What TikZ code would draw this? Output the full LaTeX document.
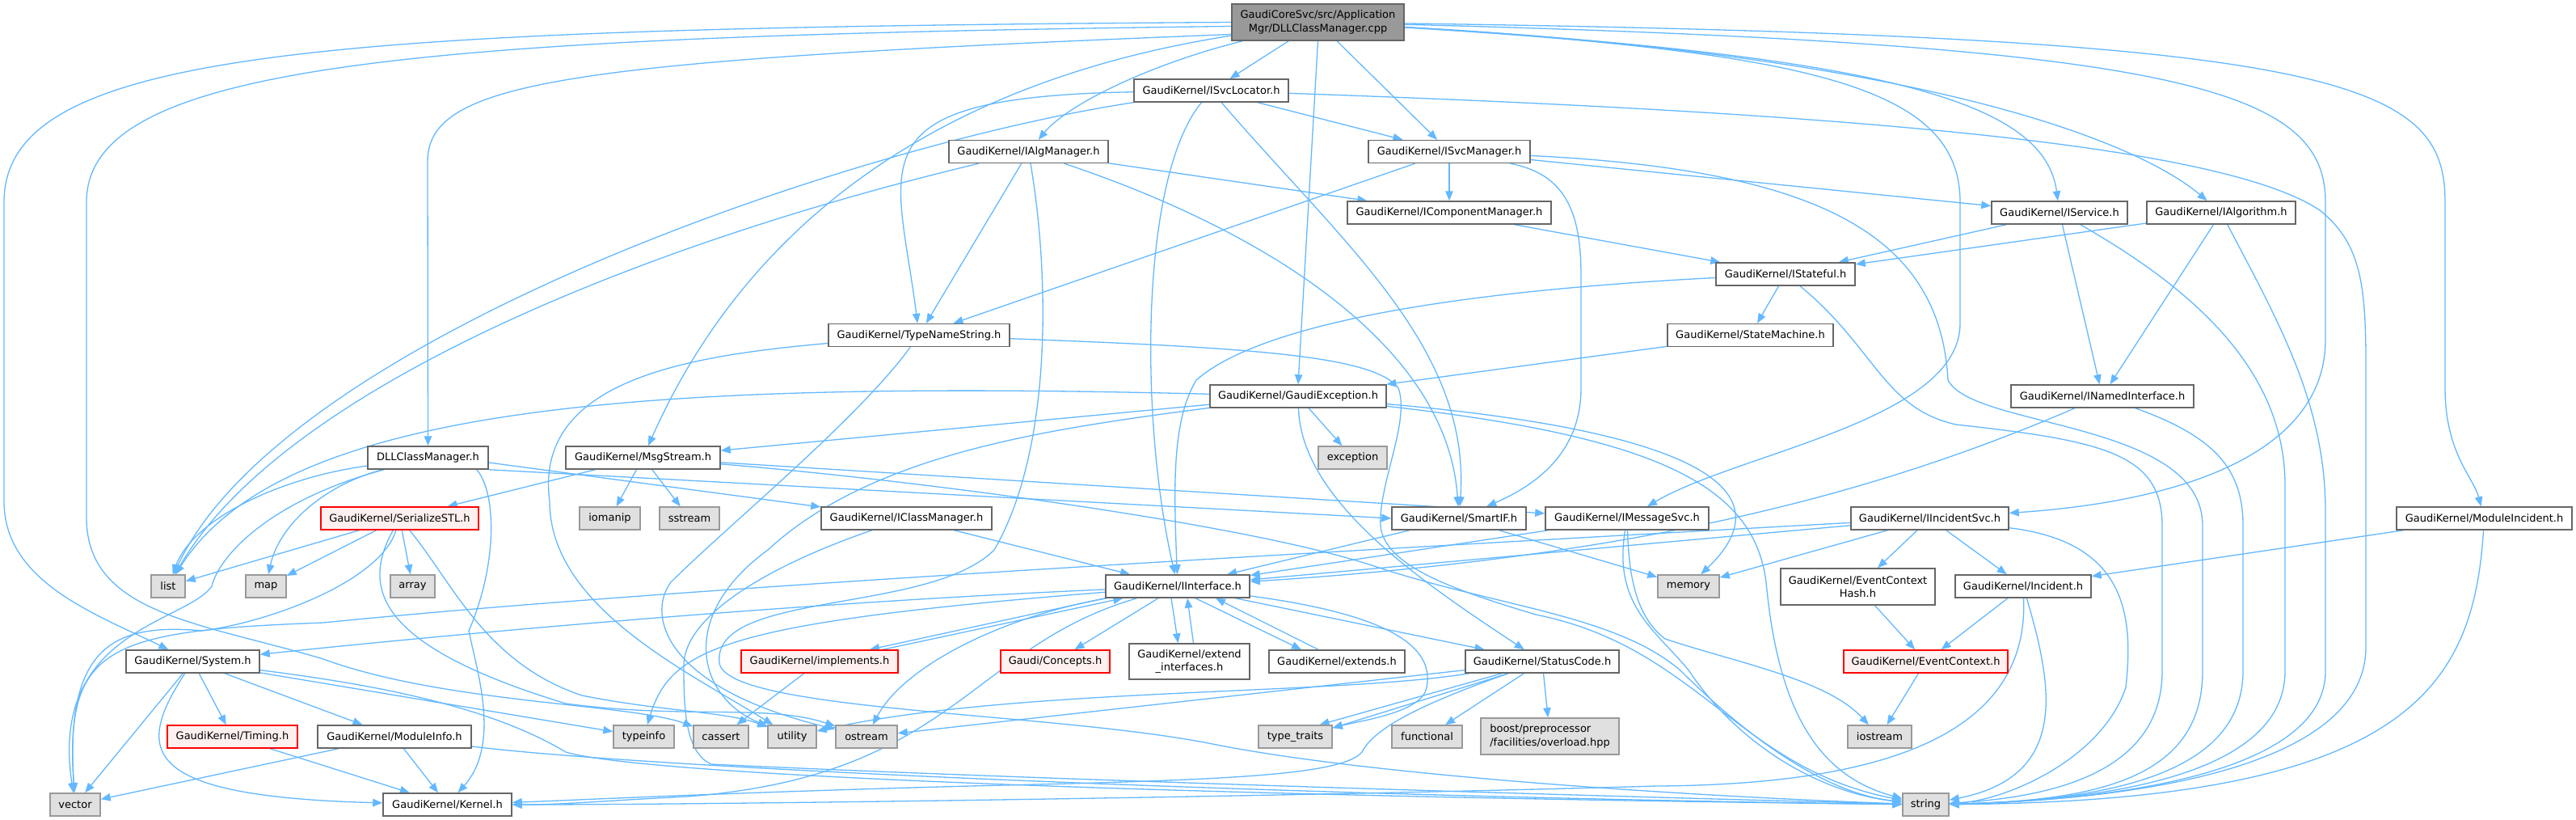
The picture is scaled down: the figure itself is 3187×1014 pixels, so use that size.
\documentclass[tikz,border=0pt]{standalone}
\usepackage{fontspec}
\setmainfont{DejaVu Sans}
\usetikzlibrary{arrows.meta}
\definecolor{edgeblue}{HTML}{63B8FF}
\definecolor{nodeline}{HTML}{666666}
\definecolor{leafline}{HTML}{999999}
\definecolor{leaffill}{HTML}{E0E0E0}
\definecolor{rootfill}{HTML}{999999}
\definecolor{redfill}{HTML}{FFF0F0}
\pgfdeclarelayer{edgelayer}
\pgfsetlayers{edgelayer,main}
\newcommand\nd[7]{\node[#6,minimum width=#4pt,minimum height=#5pt] (#1) at (#2,#3) {#7};}
\begin{document}
\begin{tikzpicture}[x=1pt,y=-1pt,
  box/.style={draw=nodeline,fill=white,line width=1.5pt,inner sep=0pt,align=center,font=\fontsize{13}{16.5}\selectfont},
  leaf/.style={box,draw=leafline,fill=leaffill},
  trunc/.style={box,draw=red,fill=redfill},
  rootbox/.style={box,draw=nodeline,fill=rootfill},
  edge/.style={draw=edgeblue,line width=1.3pt,-{Triangle[length=12pt,width=9.5pt]}}]
\useasboundingbox (0,0) rectangle (3187,1014);
\nd{root}{1630.5}{27.5}{213}{45}{rootbox}{GaudiCoreSvc/src/Application\\Mgr/DLLClassManager.cpp}
\nd{ISvcLocator}{1498.5}{112}{191}{28}{box}{GaudiKernel/ISvcLocator.h}
\nd{IAlgManager}{1272.5}{187.5}{197}{28}{box}{GaudiKernel/IAlgManager.h}
\nd{ISvcManager}{1793}{187.5}{200}{28}{box}{GaudiKernel/ISvcManager.h}
\nd{IComponentManager}{1793}{263}{252}{28}{box}{GaudiKernel/IComponentManager.h}
\nd{IService}{2548}{263}{168}{28}{box}{GaudiKernel/IService.h}
\nd{IAlgorithm}{2748}{263}{184}{28}{box}{GaudiKernel/IAlgorithm.h}
\nd{IStateful}{2209}{339}{172}{28}{box}{GaudiKernel/IStateful.h}
\nd{TypeNameString}{1137}{414.5}{224}{28}{box}{GaudiKernel/TypeNameString.h}
\nd{StateMachine}{2165.5}{414.5}{205}{28}{box}{GaudiKernel/StateMachine.h}
\nd{GaudiException}{1606}{490}{218}{28}{box}{GaudiKernel/GaudiException.h}
\nd{INamedInterface}{2601}{490}{226}{28}{box}{GaudiKernel/INamedInterface.h}
\nd{DLLClassManagerH}{529.5}{566}{149}{28}{box}{DLLClassManager.h}
\nd{MsgStream}{795.5}{566}{191}{28}{box}{GaudiKernel/MsgStream.h}
\nd{exception}{1673.5}{566}{85}{28}{leaf}{exception}
\nd{SerializeSTL}{494.5}{641}{195}{28}{trunc}{GaudiKernel/SerializeSTL.h}
\nd{iomanip}{754.5}{641}{75}{28}{leaf}{iomanip}
\nd{sstream}{853}{641}{74}{28}{leaf}{sstream}
\nd{IClassManager}{1121.5}{641}{211}{28}{box}{GaudiKernel/IClassManager.h}
\nd{SmartIF}{1805}{641}{166}{28}{box}{GaudiKernel/SmartIF.h}
\nd{IMessageSvc}{2013}{641}{202}{28}{box}{GaudiKernel/IMessageSvc.h}
\nd{IIncidentSvc}{2387.5}{641}{195}{28}{box}{GaudiKernel/IIncidentSvc.h}
\nd{ModuleIncident}{3073.5}{641}{217}{28}{box}{GaudiKernel/ModuleIncident.h}
\nd{list}{208}{725}{42}{28}{leaf}{list}
\nd{map}{329}{725}{50}{28}{leaf}{map}
\nd{array}{510.5}{725}{55}{28}{leaf}{array}
\nd{memory}{2089}{725}{76}{28}{leaf}{memory}
\nd{IInterface}{1457}{725}{178}{28}{box}{GaudiKernel/IInterface.h}
\nd{EventContextHash}{2298.5}{725.5}{191}{45}{box}{GaudiKernel/EventContext\\Hash.h}
\nd{Incident}{2503}{725}{168}{28}{box}{GaudiKernel/Incident.h}
\nd{System}{238.5}{818}{165}{28}{box}{GaudiKernel/System.h}
\nd{implements}{1014}{818}{194}{28}{trunc}{GaudiKernel/implements.h}
\nd{Concepts}{1305.5}{818}{135}{28}{trunc}{Gaudi/Concepts.h}
\nd{extendinterfaces}{1471.5}{818}{149}{44}{box}{GaudiKernel/extend\\\_interfaces.h}
\nd{extends}{1654}{818}{168}{28}{box}{GaudiKernel/extends.h}
\nd{StatusCode}{1908}{818}{190}{28}{box}{GaudiKernel/StatusCode.h}
\nd{EventContext}{2382.5}{818}{203}{28}{trunc}{GaudiKernel/EventContext.h}
\nd{Timing}{287.5}{911}{161}{28}{trunc}{GaudiKernel/Timing.h}
\nd{ModuleInfo}{488}{911}{190}{28}{box}{GaudiKernel/ModuleInfo.h}
\nd{typeinfo}{796.5}{911}{75}{28}{leaf}{typeinfo}
\nd{cassert}{892}{911}{68}{28}{leaf}{cassert}
\nd{utility}{980}{911}{60}{28}{leaf}{utility}
\nd{ostream}{1072}{911}{76}{28}{leaf}{ostream}
\nd{typetraits}{1602.5}{911}{91}{28}{leaf}{type\_traits}
\nd{functional}{1765.5}{911}{87}{28}{leaf}{functional}
\nd{boost}{1917.5}{910.5}{171}{45}{leaf,align=left}{boost/preprocessor\\/facilities/overload.hpp}
\nd{iostream}{2325.5}{911}{79}{28}{leaf}{iostream}
\nd{vector}{93}{995}{62}{28}{leaf}{vector}
\nd{Kernel}{553.5}{995}{159}{28}{box}{GaudiKernel/Kernel.h}
\nd{string}{2382.5}{995}{57}{28}{leaf}{string}
\begin{pgfonlayer}{edgelayer}
% root
\draw[edge] (root) -- (ISvcLocator);
\draw[edge] (root) .. controls (1420,80) and (1320,130) .. (IAlgManager);
\draw[edge] (root) -- (ISvcManager);
\draw[edge] (root.south) -- (GaudiException.north);
\draw[edge] (root) .. controls (2350,70) and (2530,130) .. (IService);
\draw[edge] (root) .. controls (2400,70) and (2650,180) .. (IAlgorithm);
\draw[edge] (root) .. controls (2700,55) and (2877,110) .. (2877,250) -- (2877,420) .. controls (2877,560) and (2700,620) .. (IIncidentSvc);
\draw[edge] (root) .. controls (2900,45) and (3025,100) .. (3025,250) -- (3025,480) .. controls (3025,560) and (3060,590) .. (ModuleIncident);
\draw[edge] (root) .. controls (2250,65) and (2425,110) .. (2425,250) -- (2425,400) .. controls (2425,520) and (2150,560) .. (IMessageSvc);
\draw[edge] (root) .. controls (1100,110) and (900,330) .. (MsgStream);
\draw[edge] ([yshift=-15pt]root.west) .. controls (700,75) and (529,100) .. (529,200) -- (DLLClassManagerH);
\draw[edge] (root.west) .. controls (400,35) and (5,60) .. (5,250) -- (5,620) .. controls (5,720) and (120,760) .. (System);
\draw[edge] ([yshift=-5pt]root.west) .. controls (500,45) and (107,80) .. (107,250) -- (107,640) .. controls (107,760) and (250,770) .. (400,815) .. controls (550,870) and (780,870) .. (cassert);
% ISvcLocator
\draw[edge] (ISvcLocator) .. controls (1050,120) and (1110,200) .. (TypeNameString);
\draw[edge] (ISvcLocator.south west) .. controls (1050,180) and (350,420) .. (list);
\draw[edge] (ISvcLocator) .. controls (1410,220) and (1410,520) .. (IInterface);
\draw[edge] (ISvcLocator) -- (ISvcManager);
\draw[edge] (ISvcLocator) .. controls (1660,300) and (1820,430) .. (SmartIF);
\draw[edge] (ISvcLocator) .. controls (2300,140) and (2750,180) .. (2870,260) .. controls (2920,300) and (2927,350) .. (2927,450) -- (2927,800) .. controls (2927,960) and (2600,990) .. (string);
% IAlgManager
\draw[edge] (IAlgManager) -- (IComponentManager);
\draw[edge] (IAlgManager) .. controls (1550,280) and (1790,420) .. (SmartIF);
\draw[edge] (IAlgManager) -- (TypeNameString);
\draw[edge] (IAlgManager) .. controls (800,300) and (350,480) .. (list);
\draw[edge] (IAlgManager) .. controls (1300,350) and (1300,560) .. (1230,680) .. controls (1150,760) and (880,730) .. (890,820) .. controls (900,880) and (1300,880) .. (1500,920) .. controls (1700,960) and (2100,985) .. (string);
% ISvcManager
\draw[edge] (ISvcManager) -- (IComponentManager);
\draw[edge] (ISvcManager) -- (IService);
\draw[edge] ([xshift=-25pt]ISvcManager.south east) .. controls (1935,215) and (1956,260) .. (1956,340) -- (1956,480) .. controls (1956,560) and (1900,600) .. (SmartIF);
\draw[edge] (ISvcManager) -- (TypeNameString);
\draw[edge] (ISvcManager) .. controls (2250,210) and (2400,290) .. (2410,470) .. controls (2440,530) and (2725,520) .. (2725,650) -- (2725,830) .. controls (2725,960) and (2600,990) .. (string);
% IComponentManager, IService, IAlgorithm
\draw[edge] (IComponentManager) -- (IStateful);
\draw[edge] (IService) -- (IStateful);
\draw[edge] (IService) -- (INamedInterface);
\draw[edge] (IService) .. controls (2700,350) and (2827,450) .. (2827,600) -- (2827,830) .. controls (2827,960) and (2600,990) .. (string);
\draw[edge] (IAlgorithm) -- (IStateful);
\draw[edge] (IAlgorithm) -- (INamedInterface);
\draw[edge] (IAlgorithm) .. controls (2820,400) and (2877,500) .. (2877,633) -- (2877,830) .. controls (2877,960) and (2600,990) .. (string);
% IStateful
\draw[edge] (IStateful) .. controls (1800,360) and (1560,400) .. (1480,470) .. controls (1450,520) and (1452,600) .. (IInterface);
\draw[edge] (IStateful) -- (StateMachine);
\draw[edge] (IStateful) .. controls (2320,430) and (2330,505) .. (2420,525) .. controls (2600,545) and (2675,560) .. (2675,650) -- (2675,830) .. controls (2675,950) and (2550,985) .. (string);
\draw[edge] (StateMachine) -- (GaudiException);
% TypeNameString
\draw[edge] (TypeNameString) .. controls (1550,430) and (1700,440) .. (1730,480) .. controls (1745,520) and (1705,600) .. (1708,650) .. controls (1712,700) and (1800,730) .. (1900,760) .. controls (2100,800) and (2150,950) .. (string);
\draw[edge] (TypeNameString) .. controls (850,440) and (660,470) .. (680,620) .. controls (680,750) and (850,830) .. (utility);
\draw[edge] (TypeNameString) .. controls (1060,520) and (900,650) .. (830,720) .. controls (800,760) and (820,850) .. (ostream);
% GaudiException
\draw[edge] (GaudiException) -- (MsgStream);
\draw[edge] (GaudiException) .. controls (800,470) and (350,500) .. (list);
\draw[edge] (GaudiException) -- (exception);
\draw[edge] (GaudiException) .. controls (1950,520) and (2250,570) .. (memory);
\draw[edge] (GaudiException) .. controls (1610,620) and (1760,720) .. (StatusCode);
\draw[edge] (GaudiException) .. controls (2050,540) and (2170,600) .. (2185,720) .. controls (2200,880) and (2250,960) .. (string);
\draw[edge] (GaudiException) .. controls (1300,530) and (1080,560) .. (950,680) .. controls (840,760) and (860,860) .. (utility);
% INamedInterface
\draw[edge] (INamedInterface) .. controls (2300,620) and (2000,690) .. (IInterface);
\draw[edge] (INamedInterface) .. controls (2740,540) and (2775,580) .. (2775,650) -- (2775,830) .. controls (2775,960) and (2600,990) .. (string);
% DLLClassManager.h
\draw[edge] ([yshift=-6pt]DLLClassManagerH.east) -- (IClassManager);
\draw[edge] (DLLClassManagerH.south east) -- (SmartIF.west);
\draw[edge] (DLLClassManagerH) .. controls (350,590) and (240,640) .. (list);
\draw[edge] (DLLClassManagerH) .. controls (400,600) and (345,650) .. (map);
\draw[edge] (DLLClassManagerH) .. controls (330,620) and (270,690) .. (262,725) .. controls (230,770) and (60,780) .. (vector);
\draw[edge] ([xshift=-15pt]DLLClassManagerH.south east) .. controls (615,610) and (615,700) .. (580,780) .. controls (590,830) and (620,920) .. (Kernel);
% MsgStream
\draw[edge] (MsgStream) -- (IMessageSvc);
\draw[edge] (MsgStream) -- (SerializeSTL);
\draw[edge] (MsgStream) -- (iomanip);
\draw[edge] (MsgStream) -- (sstream);
\draw[edge] (MsgStream) .. controls (1150,595) and (1550,650) .. (1700,700) .. controls (1850,750) and (2000,760) .. (2080,830) .. controls (2150,900) and (2250,980) .. (string);
% SerializeSTL
\draw[edge] (SerializeSTL) -- (list);
\draw[edge] (SerializeSTL) -- (map);
\draw[edge] (SerializeSTL) -- (array);
\draw[edge] (SerializeSTL) .. controls (470,720) and (330,770) .. (250,780) .. controls (140,770) and (80,800) .. (vector);
\draw[edge] (SerializeSTL) .. controls (445,730) and (470,800) .. (700,870) .. controls (850,890) and (950,870) .. (ostream);
\draw[edge] (SerializeSTL) .. controls (560,720) and (600,820) .. (720,860) .. controls (820,880) and (900,880) .. (utility);
% IClassManager
\draw[edge] (IClassManager) -- (IInterface);
\draw[edge] (IClassManager) .. controls (950,700) and (850,760) .. (846,820) .. controls (846,870) and (846,930) .. (880,945) .. controls (1300,965) and (2000,985) .. (string);
% SmartIF, IMessageSvc
\draw[edge] (SmartIF) -- (IInterface);
\draw[edge] (SmartIF) -- (memory);
\draw[edge] (IMessageSvc) -- (IInterface);
\draw[edge] (IMessageSvc) .. controls (2015,700) and (2020,760) .. (2060,790) .. controls (2150,820) and (2260,840) .. (iostream);
\draw[edge] (IMessageSvc) .. controls (1995,750) and (2050,780) .. (2090,830) .. controls (2150,920) and (2250,980) .. (string);
% IIncidentSvc
\draw[edge] (IIncidentSvc) -- (IInterface);
\draw[edge] (IIncidentSvc) .. controls (1500,690) and (800,730) .. (400,770) .. controls (130,780) and (80,800) .. (vector);
\draw[edge] (IIncidentSvc) -- (memory);
\draw[edge] (IIncidentSvc) -- (EventContextHash);
\draw[edge] (IIncidentSvc) -- (Incident);
\draw[edge] (IIncidentSvc) .. controls (2630,670) and (2640,760) .. (2630,850) .. controls (2600,940) and (2480,990) .. (string);
% ModuleIncident, Incident, EventContext
\draw[edge] (ModuleIncident) -- (Incident);
\draw[edge] (ModuleIncident) .. controls (3060,850) and (2980,990) .. (string);
\draw[edge] (Incident) -- (EventContext);
\draw[edge] (Incident) .. controls (2510,900) and (2350,970) .. (2050,972) .. controls (1600,985) and (900,995) .. (Kernel);
\draw[edge] (Incident) .. controls (2540,850) and (2560,960) .. (string);
\draw[edge] (EventContextHash) -- (EventContext);
\draw[edge] (EventContext) -- (iostream);
% IInterface
\draw[edge] (IInterface) .. controls (1000,745) and (600,780) .. (System);
\draw[edge] (IInterface.south west) -- ([xshift=62pt]implements.north);
\draw[edge] ([xshift=78pt]implements.north) -- ([xshift=22pt]IInterface.south west);
\draw[edge] (IInterface) -- (Concepts);
\draw[edge] ([xshift=-8pt]IInterface.south) -- ([xshift=-14pt]extendinterfaces.north);
\draw[edge] ([xshift=5pt]extendinterfaces.north) -- ([xshift=12pt]IInterface.south);
\draw[edge] ([xshift=22pt]IInterface.south) -- ([xshift=-44pt]extends.north);
\draw[edge] ([xshift=-23pt]extends.north) -- ([xshift=47pt]IInterface.south);
\draw[edge] (IInterface) -- (StatusCode);
\draw[edge] (IInterface) .. controls (1200,800) and (1180,960) .. (850,985) .. controls (750,990) and (700,995) .. (Kernel);
\draw[edge] (IInterface) .. controls (1250,760) and (1120,820) .. (ostream);
\draw[edge] (IInterface) .. controls (1720,760) and (1775,800) .. (1765,850) .. controls (1760,880) and (1690,890) .. (typetraits);
\draw[edge] (IInterface) .. controls (900,770) and (830,800) .. (typeinfo);
\draw[edge] (implements) -- (cassert);
% StatusCode
\draw[edge] (StatusCode) -- (boost);
\draw[edge] (StatusCode) -- (functional);
\draw[edge] ([xshift=-50pt]StatusCode.south) -- ([xshift=30pt]typetraits.north);
\draw[edge] ([xshift=-42pt]StatusCode.south) -- ([yshift=-4pt]typetraits.north east);
\draw[edge] (StatusCode) -- (ostream);
\draw[edge] (StatusCode) .. controls (1650,860) and (1250,850) .. (utility);
\draw[edge] (StatusCode) .. controls (1760,870) and (1700,900) .. (1685,930) .. controls (1660,960) and (1500,965) .. (1200,972) .. controls (900,980) and (700,990) .. (Kernel);
% System
\draw[edge] (System) .. controls (165,930) and (175,985) .. (Kernel);
\draw[edge] (System) -- (Timing);
\draw[edge] (System) -- (ModuleInfo);
\draw[edge] (System) -- (vector);
\draw[edge] (System) -- (typeinfo);
\draw[edge] (System) .. controls (450,845) and (600,870) .. (700,930) .. controls (800,960) and (1500,985) .. (string);
% ModuleInfo, Timing
\draw[edge] (ModuleInfo) -- (Kernel);
\draw[edge] (ModuleInfo) -- (vector);
\draw[edge] (ModuleInfo) .. controls (800,950) and (1600,985) .. (string);
\draw[edge] (Timing) -- (Kernel);
\end{pgfonlayer}
\end{tikzpicture}
\end{document}
